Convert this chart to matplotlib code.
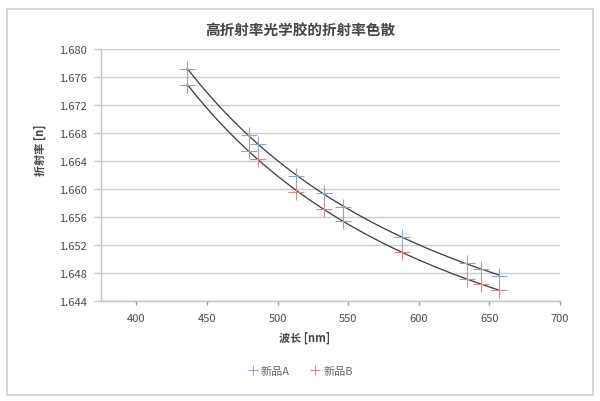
import numpy as np
import matplotlib
matplotlib.use("Agg")
import matplotlib.pyplot as plt
from matplotlib.patches import Rectangle

plt.rcParams['font.family'] = ['Noto Sans CJK SC', 'DejaVu Sans']

wavelength = [436, 480, 486, 513, 533, 546, 588, 634, 644, 657]
n_A = [1.6772, 1.6677, 1.6664, 1.6619, 1.6594, 1.6574, 1.6532, 1.6494, 1.6486, 1.6476]
n_B = [1.6749, 1.6655, 1.6643, 1.6596, 1.6571, 1.6554, 1.6510, 1.6471, 1.6464, 1.6456]
series_names = ['新品A', '新品B']
title = '高折射率光学胶的折射率色散'
xlabel = '波长 [nm]'
ylabel = '折射率 [n]'
xticks = [400, 450, 500, 550, 600, 650, 700]
yticks = [1.644, 1.648, 1.652, 1.656, 1.660, 1.664, 1.668, 1.672, 1.676, 1.680]

fig = plt.figure(figsize=(6.0, 4.02), dpi=100)
fig.patch.set_facecolor('white')
fig.add_artist(Rectangle((7/600, 1-396/402), 586/600, 386/402, transform=fig.transFigure,
                         fill=False, edgecolor='#cfcfcf', linewidth=1.2))

ax = fig.add_axes([101/600, 1-302/402, 459/600, 252/402])
colors = ['#8ea7c2', '#c98f8f']
wl = np.array(wavelength, dtype=float)
for vals, c, name in zip([n_A, n_B], colors, series_names):
    v = np.array(vals)
    # Cauchy-type trendline fitted to the data
    coef = np.polyfit(1.0/wl**2, v, 2)
    xs = np.linspace(wl.min(), wl.max(), 200)
    ax.plot(xs, np.polyval(coef, 1.0/xs**2), color='#3a3a3a', linewidth=0.9, zorder=3)
    ax.plot(wl, v, linestyle='none', marker='+', markersize=11, markeredgewidth=0.8,
            color=c, label=name, zorder=4)

ax.set_xlim(375, 700)
ax.set_ylim(1.644, 1.680)
ax.set_xticks(xticks)
ax.set_yticks(yticks)
ax.set_yticklabels([f'{t:.3f}' for t in yticks])
ax.grid(axis='y', color='#cccccc', linewidth=1.0)
ax.set_axisbelow(True)
for s in ['top', 'right']:
    ax.spines[s].set_visible(False)
ax.spines['left'].set_color('#c4c4c4')
ax.spines['bottom'].set_color('#c4c4c4')
ax.spines['left'].set_linewidth(1.0)
ax.spines['bottom'].set_linewidth(1.0)
ax.tick_params(axis='y', length=5, width=1.0, color='#c4c4c4', labelsize=8, labelcolor='#4a4a4a', pad=5)
ax.tick_params(axis='x', length=3, width=1.0, color='#999999', labelsize=8, labelcolor='#4a4a4a', pad=6)

fig.text(0.5, 1-31/402, title, ha='center', va='center', fontsize=10.5, color='#444444', fontweight='bold')
fig.text(40/600, 1-150/402, ylabel, ha='center', va='center', rotation=90, fontsize=8, color='#444444', fontweight='bold')
fig.text(305/600, 1-338/402, xlabel, ha='center', va='center', fontsize=8, color='#444444', fontweight='bold')

leg = fig.legend(loc='center', bbox_to_anchor=(300/600, 1-372/402), ncol=2, frameon=False,
                 fontsize=8, handletextpad=0.2, columnspacing=1.8, handlelength=1.0, markerscale=0.7)
for t in leg.get_texts():
    t.set_color('#666666')

fig.savefig('out.png', dpi=100)
